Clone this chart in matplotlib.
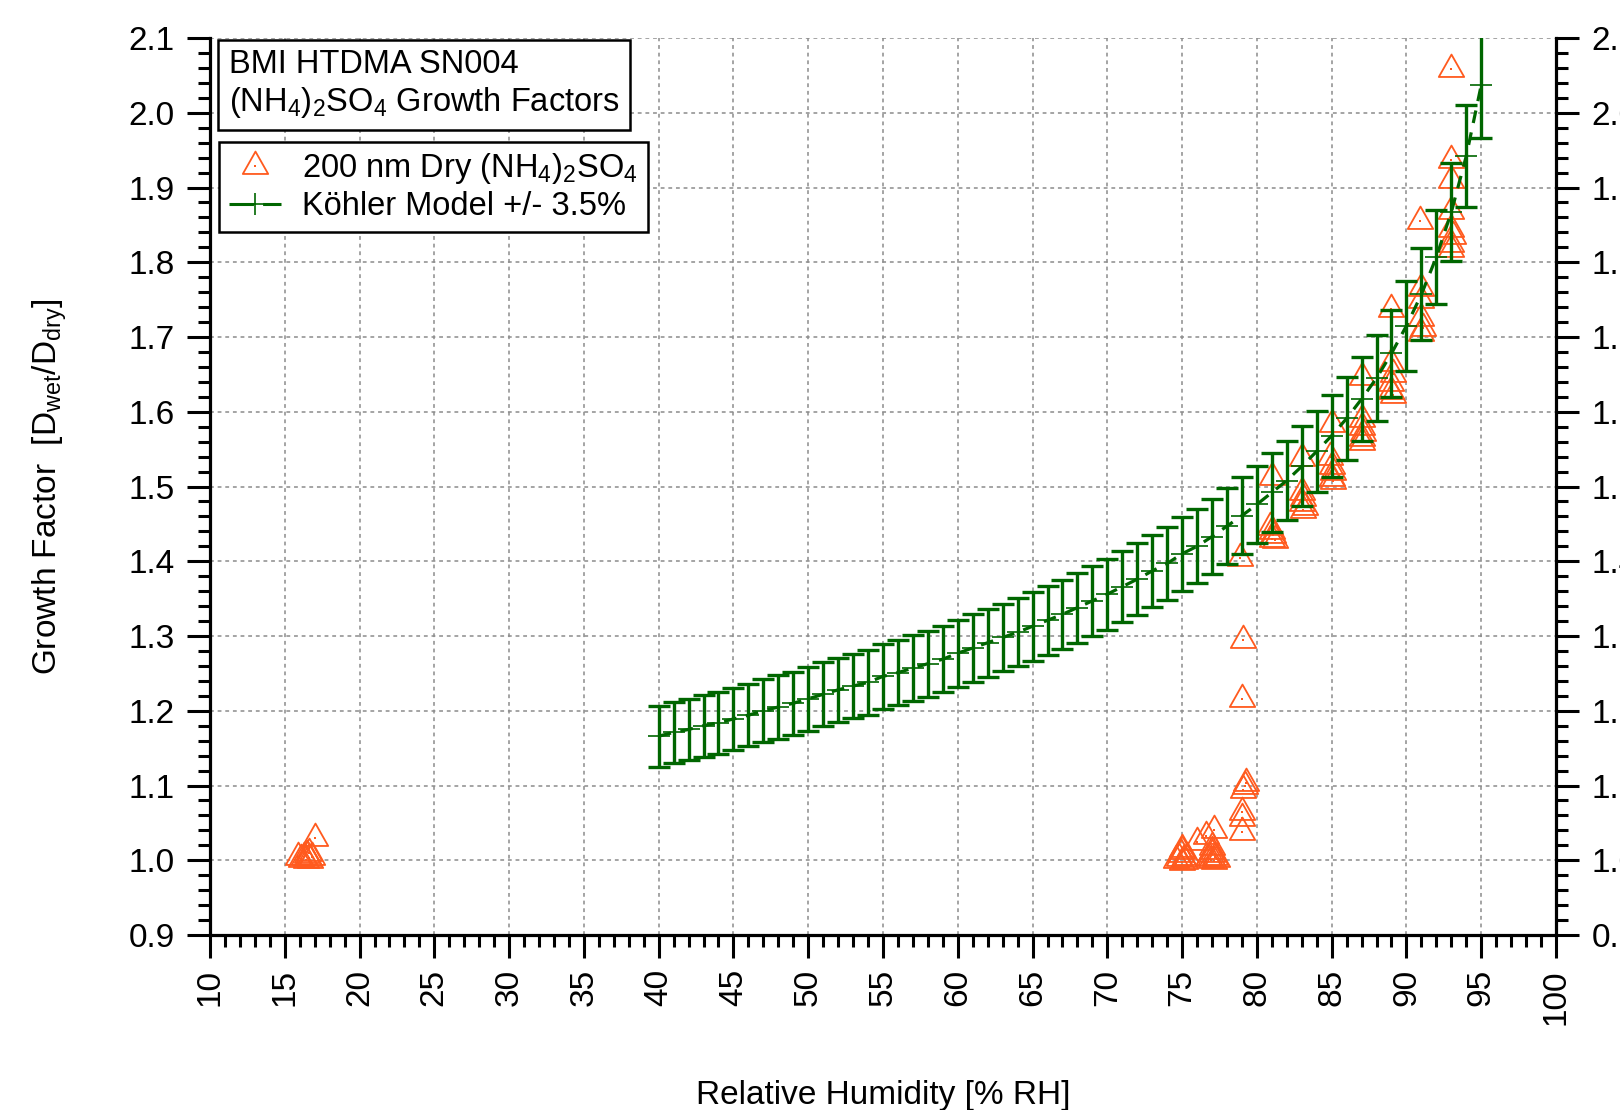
import numpy as np
import matplotlib
matplotlib.use('Agg')
import matplotlib.pyplot as plt
from matplotlib.ticker import MultipleLocator, FormatStrFormatter
from matplotlib.lines import Line2D
from matplotlib.legend_handler import HandlerTuple
from matplotlib.path import Path

plt.rcParams['font.family'] = ['Liberation Sans', 'DejaVu Sans']
plt.rcParams['mathtext.fontset'] = 'custom'
plt.rcParams['mathtext.rm'] = 'Liberation Sans'
plt.rcParams['mathtext.it'] = 'Liberation Sans:italic'
plt.rcParams['mathtext.bf'] = 'Liberation Sans:bold'

# ---------------- data ----------------
rh_model = list(range(40, 96))
gf_model = [1.166, 1.171, 1.175, 1.180, 1.184, 1.189, 1.194, 1.200, 1.205, 1.210,
            1.216, 1.222, 1.228, 1.233, 1.238, 1.246, 1.251, 1.257, 1.263, 1.269,
            1.277, 1.284, 1.291, 1.298, 1.305, 1.313, 1.321, 1.329, 1.338, 1.347,
            1.356, 1.366, 1.376, 1.387, 1.397, 1.410, 1.420, 1.433, 1.447, 1.461,
            1.476, 1.492, 1.508, 1.527, 1.547, 1.568, 1.591, 1.617, 1.645, 1.678,
            1.715, 1.757, 1.807, 1.867, 1.942, 2.037]
model_err_frac = 0.035

rh_meas = [15.9, 16.1, 16.3, 16.4, 16.5, 16.6, 16.7, 16.8, 16.6, 17.0,
           74.6, 74.8, 74.9, 75.0, 75.0, 75.1, 75.2, 75.3, 75.0, 76.0, 76.6, 77.1,
           76.7, 76.9, 77.0, 77.0, 77.1, 77.2, 77.3, 77.0,
           79.0, 79.0, 79.0, 79.1, 79.2, 79.3, 79.0, 79.1, 78.9,
           81.0, 80.9, 81.0, 81.1, 81.0, 81.2,
           83.0, 83.0, 83.1, 83.0, 83.2, 83.1,
           85.0, 84.9, 85.0, 85.1, 85.0, 85.1,
           87.0, 87.0, 87.0, 87.1, 87.0, 87.0,
           89.0, 89.0, 89.1, 89.0, 89.0, 89.1,
           90.9, 91.0, 91.0, 91.0, 91.1, 91.0,
           93.0, 93.0, 93.0, 93.0, 93.0, 93.1, 93.0, 93.0]
gf_meas = [1.004, 1.002, 1.005, 1.001, 1.007, 1.003, 1.000, 1.005, 1.010, 1.030,
           1.000, 1.003, 1.008, 0.998, 1.012, 1.002, 0.999, 1.005, 1.015, 1.025, 1.032, 1.040,
           1.003, 1.000, 1.008, 1.012, 0.999, 1.005, 1.002, 1.018,
           1.038, 1.057, 1.065, 1.094, 1.100, 1.103, 1.216, 1.295, 1.405,
           1.513, 1.446, 1.440, 1.435, 1.430, 1.428,
           1.538, 1.493, 1.485, 1.478, 1.472, 1.468,
           1.583, 1.540, 1.527, 1.520, 1.512, 1.508,
           1.647, 1.590, 1.580, 1.572, 1.565, 1.560,
           1.738, 1.665, 1.650, 1.638, 1.628, 1.622,
           1.855, 1.765, 1.750, 1.725, 1.712, 1.706,
           2.058, 1.937, 1.910, 1.868, 1.845, 1.835, 1.825, 1.818]

x_ticks = list(range(10, 101, 5))
y_ticks = [0.9, 1.0, 1.1, 1.2, 1.3, 1.4, 1.5, 1.6, 1.7, 1.8, 1.9, 2.0, 2.1]

title_text = "BMI HTDMA SN004\n(NH$_4$)$_2$SO$_4$ Growth Factors"
meas_label = "200 nm Dry (NH$_4$)$_2$SO$_4$"
model_label = "Köhler Model +/- 3.5%"
xlabel = "Relative Humidity [% RH]"
ylabel = r"Growth Factor  [D$_{\mathregular{wet}}$/D$_{\mathregular{dry}}$]"

# ---------------- style ----------------
GREEN = '#006600'
ORANGE = '#FF5A1E'
FS = 24
FS_BOX = 23.5

tri = Path([(0, 1), (-0.85, -0.5), (0.85, -0.5), (0, 1)],
           [Path.MOVETO, Path.LINETO, Path.LINETO, Path.CLOSEPOLY])

fig = plt.figure(figsize=(16.2, 11.1), dpi=100)
ax = fig.add_axes([210/1620, 1-935/1110, (1556-210)/1620, (935-38)/1110])

ax.set_xlim(10, 100)
ax.set_ylim(0.9, 2.1)

# grid
ax.set_xticks(x_ticks)
ax.set_yticks(y_ticks)
ax.xaxis.set_minor_locator(MultipleLocator(1))
ax.yaxis.set_minor_locator(MultipleLocator(0.02))
ax.yaxis.set_major_formatter(FormatStrFormatter('%.1f'))
ax.grid(True, which='major', color='#8c8c8c', linestyle=(0, (2.5, 2.5)), linewidth=1.1, zorder=0)
ax.set_axisbelow(True)

# measurements
ax.plot(rh_meas, gf_meas, linestyle='none', marker=tri, markersize=21.5,
        markerfacecolor='none', markeredgecolor=ORANGE, markeredgewidth=1.3, zorder=3)
ax.plot(rh_meas, gf_meas, linestyle='none', marker='s', markersize=2.0,
        markerfacecolor=ORANGE, markeredgewidth=0, zorder=3)

# model
gf_arr = np.array(gf_model)
ax.errorbar(rh_model, gf_model, yerr=gf_arr * model_err_frac, fmt='none',
            ecolor=GREEN, elinewidth=2.4, capsize=8, capthick=2.4, zorder=4)
ax.plot(rh_model, gf_model, color=GREEN, linestyle=(0, (4, 3)), linewidth=2.3,
        marker='+', markersize=16, markeredgewidth=1.2, zorder=5)

# spines & ticks
for s in ['left', 'right', 'bottom']:
    ax.spines[s].set_linewidth(2.3)
ax.spines['top'].set_visible(False)
ax.tick_params(axis='both', which='major', direction='out', length=16.5, width=2.2,
               labelsize=FS, color='black')
ax.tick_params(axis='both', which='minor', direction='out', length=8.5, width=2.2)
ax.tick_params(axis='y', which='both', left=True, right=True, labelleft=True, labelright=True)
ax.tick_params(axis='y', which='major', pad=9)
ax.tick_params(axis='x', which='major', labelrotation=90, pad=8)

ax.set_xlabel(xlabel, fontsize=FS)
ax.xaxis.set_label_coords(0.5, -0.162)
ax.set_ylabel(ylabel, fontsize=FS)
ax.yaxis.set_label_coords(-0.1046, 0.5)

# title box
ax.text(19/1346, (935-49)/897, title_text, transform=ax.transAxes, fontsize=FS_BOX,
        ha='left', va='top', linespacing=1.18, zorder=6,
        bbox=dict(boxstyle='square,pad=0.33', facecolor='white', edgecolor='black', linewidth=1.8))

# legend
h_meas = (Line2D([], [], linestyle='none', marker=tri, markersize=21.5, markerfacecolor='none',
                 markeredgecolor=ORANGE, markeredgewidth=1.3),
          Line2D([], [], linestyle='none', marker='s', markersize=2.0,
                 markerfacecolor=ORANGE, markeredgewidth=0))
h_model = Line2D([], [], color=GREEN, linestyle=(0, (8, 3)), linewidth=2.2,
                 marker='+', markersize=16, markeredgewidth=1.2)
leg = ax.legend([h_meas, h_model], [meas_label, model_label],
                handler_map={tuple: HandlerTuple(ndivide=1, pad=0)},
                loc='upper left', bbox_to_anchor=(9/1346, (935-141.5)/897),
                borderaxespad=0, fontsize=FS_BOX, handlelength=1.6, handletextpad=0.65,
                borderpad=0.3, labelspacing=0.15, fancybox=False, framealpha=1,
                edgecolor='black', numpoints=1)
leg.get_frame().set_linewidth(1.8)
leg.set_zorder(7)

fig.savefig('out.png', dpi=100)
